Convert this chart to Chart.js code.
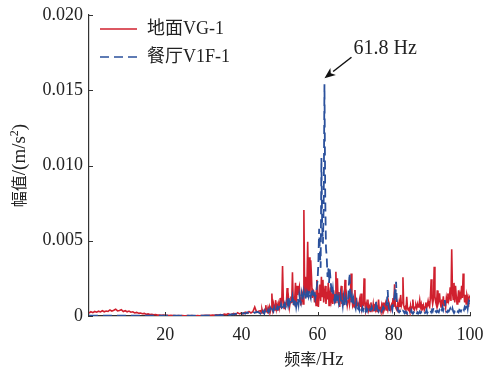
<!DOCTYPE html>
<html>
<head>
<meta charset="utf-8">
<script src="https://cdn.jsdelivr.net/npm/chart.js@4.4.1/dist/chart.umd.min.js"></script>
<style>
  html, body { margin: 0; padding: 0; background: #ffffff; }
  #wrap { width: 487px; height: 374px; position: relative; }
</style>
</head>
<body>
<div id="wrap"><canvas id="spectrum" width="487" height="374"></canvas></div>
<script>
// Frequency bins: 0.5 Hz steps below 45 Hz, 0.2 Hz steps from 45 Hz to 100 Hz
const lowBand = { start: 0, step: 0.5, count: 90 };
const highBand = { start: 45, step: 0.2, count: 276 };

// Amplitudes in 10^-3 m/s^2
// 地面VG-1, 0–44.5 Hz
const groundLow = [
  0.20, 0.28, 0.22, 0.30, 0.25, 0.32, 0.27, 0.35, 0.28, 0.33,
  0.30, 0.40, 0.32, 0.38, 0.45, 0.34, 0.36, 0.42, 0.30, 0.35,
  0.28, 0.33, 0.25, 0.28, 0.20, 0.24, 0.18, 0.20, 0.15, 0.17,
  0.12, 0.14, 0.10, 0.11, 0.08, 0.09, 0.06, 0.07, 0.05, 0.06,
  0.04, 0.05, 0.03, 0.04, 0.03, 0.03, 0.02, 0.03, 0.02, 0.03,
  0.02, 0.02, 0.03, 0.02, 0.03, 0.02, 0.02, 0.03, 0.02, 0.03,
  0.03, 0.04, 0.03, 0.05, 0.04, 0.06, 0.05, 0.08, 0.06, 0.10,
  0.07, 0.12, 0.09, 0.15, 0.10, 0.12, 0.18, 0.10, 0.22, 0.14,
  0.20, 0.15, 0.25, 0.18, 0.30, 0.20, 0.28, 0.60, 0.25, 0.32
];
// 地面VG-1, 45–100 Hz (five bins per Hz)
const groundHigh = [
  0.35, 0.20, 0.45, 0.25, 0.30,
  0.40, 0.30, 0.72, 0.30, 0.25,
  0.55, 0.35, 0.60, 0.30, 0.50,
  1.50, 0.50, 0.80, 0.40, 0.60,
  1.05, 0.45, 0.70, 0.35, 0.80,
  0.55, 1.20, 0.60, 0.90, 3.32,
  1.10, 0.50, 0.90, 0.60, 0.80,
  1.86, 0.70, 1.10, 0.55, 0.90,
  1.30, 0.85, 2.90, 1.00, 0.70,
  1.20, 2.20, 0.60, 2.00, 1.40,
  1.70, 1.95, 1.20, 0.70, 1.10,
  1.40, 0.80, 7.04, 1.50, 2.60,
  1.30, 2.00, 4.94, 1.60, 3.90,
  1.50, 3.70, 2.60, 1.20, 1.70,
  1.60, 0.90, 1.30, 0.70, 2.40,
  1.90, 0.60, 1.50, 2.10, 1.00,
  2.60, 1.30, 2.40, 0.90, 1.50,
  2.00, 0.80, 1.60, 1.10, 2.20,
  0.70, 1.40, 1.90, 1.00, 1.30,
  0.80, 1.70, 1.20, 0.90, 2.94,
  1.20, 2.50, 0.90, 1.60, 0.60,
  1.30, 2.00, 0.80, 1.50, 0.70,
  1.20, 2.40, 0.90, 1.30, 0.70,
  1.00, 1.40, 0.80, 1.20, 2.83,
  1.20, 0.70, 0.90, 0.60, 1.73,
  0.50, 1.20, 0.70, 0.90, 0.40,
  1.00, 0.60, 1.50, 0.50, 0.70,
  0.70, 2.50, 0.90, 0.40, 0.80,
  0.50, 1.10, 0.40, 0.60, 0.30,
  0.90, 0.50, 0.40, 0.80, 0.30,
  0.60, 0.40, 0.70, 0.30, 0.50,
  1.10, 0.40, 0.50, 0.30, 0.70,
  0.40, 0.90, 0.35, 0.50, 0.80,
  0.40, 0.60, 0.40, 0.90, 0.50,
  0.60, 0.40, 0.70, 0.50, 1.20,
  0.60, 2.10, 0.70, 0.50, 0.40,
  0.80, 0.50, 0.90, 0.60, 1.40,
  0.70, 0.90, 2.57, 0.70, 0.50,
  0.60, 0.40, 1.28, 0.50, 0.40,
  0.50, 0.30, 0.70, 0.40, 0.60,
  1.10, 0.50, 0.40, 0.60, 0.70,
  0.50, 0.80, 0.60, 0.70, 1.06,
  0.60, 0.80, 0.40, 0.50, 0.70,
  0.40, 0.60, 0.90, 0.50, 0.70,
  1.00, 0.70, 0.60, 1.20, 2.44,
  1.20, 0.80, 1.10, 3.27, 1.30,
  0.90, 0.70, 1.70, 0.80, 1.00,
  1.50, 0.90, 0.60, 1.10, 0.80,
  1.30, 0.70, 1.00, 0.60, 1.20,
  0.90, 1.50, 1.00, 1.20, 1.90,
  1.00, 4.43, 1.60, 1.10, 2.20,
  0.90, 2.00, 1.30, 0.80, 1.10,
  1.70, 0.90, 1.40, 1.10, 2.00,
  1.20, 2.83, 1.50, 0.90, 1.40,
  0.80, 1.40, 1.20, 0.60, 1.30,
  1.20
];

// 餐厅V1F-1, 0–44.5 Hz
const diningLow = [
  0.03, 0.02, 0.03, 0.02, 0.03, 0.02, 0.02, 0.03, 0.02, 0.02,
  0.03, 0.02, 0.02, 0.03, 0.02, 0.02, 0.03, 0.02, 0.02, 0.02,
  0.02, 0.02, 0.03, 0.02, 0.02, 0.02, 0.03, 0.02, 0.02, 0.02,
  0.02, 0.03, 0.02, 0.02, 0.03, 0.02, 0.02, 0.02, 0.03, 0.02,
  0.02, 0.03, 0.02, 0.02, 0.02, 0.03, 0.02, 0.02, 0.03, 0.02,
  0.02, 0.02, 0.03, 0.02, 0.03, 0.02, 0.02, 0.03, 0.02, 0.03,
  0.03, 0.02, 0.04, 0.03, 0.05, 0.03, 0.06, 0.04, 0.05, 0.07,
  0.05, 0.08, 0.06, 0.10, 0.07, 0.12, 0.09, 0.15, 0.10, 0.18,
  0.12, 0.20, 0.15, 0.25, 0.18, 0.22, 0.30, 0.20, 0.28, 0.24
];
// 餐厅V1F-1, 45–100 Hz (five bins per Hz)
const diningHigh = [
  0.15, 0.25, 0.10, 0.30, 0.20,
  0.15, 0.35, 0.20, 0.30, 0.20,
  0.40, 0.25, 0.35, 0.50, 0.30,
  0.45, 0.40, 0.30, 0.55, 0.35,
  0.50, 0.40, 0.60, 0.45, 0.55,
  0.70, 0.50, 0.80, 0.55, 0.60,
  0.90, 0.70, 0.85, 0.60, 0.75,
  1.00, 0.75, 1.30, 0.80, 0.95,
  1.10, 0.90, 1.25, 0.70, 0.95,
  0.80, 1.10, 0.60, 0.90, 1.20,
  0.80, 1.40, 1.10, 0.90, 1.50,
  1.20, 1.00, 1.60, 1.30, 1.10,
  1.50, 1.20, 1.50, 1.30, 1.70,
  1.40, 1.20, 1.80, 1.50, 1.60,
  1.30, 1.60, 1.20, 1.50, 1.95,
  2.40, 3.50, 5.80, 4.20, 3.20,
  10.50, 6.00, 4.80, 7.50, 15.40,
  8.00, 4.50, 3.90, 2.60, 3.20,
  2.20, 3.10, 2.40, 1.80, 1.40,
  1.80, 1.20, 1.00, 1.50, 1.10,
  1.30, 0.90, 1.20, 0.80, 1.00,
  1.40, 0.90, 1.10, 0.70, 1.30,
  1.00, 0.70, 1.20, 0.90, 1.10,
  1.00, 2.00, 2.85, 1.20, 0.90,
  1.30, 0.80, 1.10, 0.60, 0.70,
  0.50, 0.90, 0.60, 0.50, 0.70,
  0.40, 0.60, 0.45, 0.35, 0.55,
  0.40, 0.60, 0.40, 0.30, 0.50,
  0.35, 0.55, 0.40, 0.30, 0.45,
  0.40, 0.60, 0.35, 0.50, 0.40,
  0.40, 0.60, 1.00, 0.50, 0.40,
  0.30, 0.50, 0.35, 0.40, 0.30,
  0.45, 0.60, 0.50, 0.70, 0.60,
  0.70, 1.00, 1.73, 0.60, 0.40,
  0.30, 0.50, 0.60, 0.40, 0.80,
  0.80, 1.40, 1.00, 2.28, 0.90,
  0.40, 0.30, 0.25, 0.35, 0.20,
  0.30, 0.25, 0.35, 0.30, 0.20,
  0.29, 0.20, 0.25, 0.15, 0.20,
  0.25, 0.15, 0.20, 0.37, 0.20,
  0.15, 0.25, 0.20, 0.15, 0.30,
  0.20, 0.25, 0.15, 0.20, 0.30,
  0.20, 0.25, 0.15, 0.20, 0.25,
  0.30, 0.20, 0.25, 0.40, 0.20,
  0.30, 0.25, 0.20, 0.35, 0.25,
  0.40, 0.30, 0.50, 0.60, 0.40,
  0.30, 0.25, 0.35, 0.30, 0.25,
  0.40, 0.30, 0.50, 0.40, 0.60,
  0.40, 0.60, 1.06, 0.50, 0.30,
  0.25, 0.35, 0.30, 0.40, 0.50,
  0.30, 0.25, 0.50, 0.30, 0.20,
  0.30, 0.25, 0.35, 0.20, 0.30,
  0.25, 0.40, 0.35, 0.30, 0.45,
  0.35, 0.50, 0.40, 0.60, 0.50,
  0.60, 0.80, 0.50, 0.90, 0.70,
  1.06
];

const seriesNames = ['地面VG-1', '餐厅V1F-1'];
const xTicks = [20, 40, 60, 80, 100];
const yTicks = [0, 0.005, 0.010, 0.015, 0.020];
const peakLabel = { freq: 61.8, text: '61.8 Hz' };

const SERIF = '"Liberation Serif", "Times New Roman", "Noto Sans CJK SC", serif';
const CJK = '"Noto Sans CJK SC", "Noto Sans CJK JP", sans-serif';
const RED = '#d0202e';
const BLUE = '#2a509c';
const INK = '#222222';

// Axis titles as runs of mixed CJK / Latin text
const xTitleRuns = [
  { text: '频率', font: '16px ' + CJK, rise: 0 },
  { text: '/Hz', font: '19px ' + SERIF, rise: 0 }
];
const yTitleRuns = [
  { text: '幅值', font: '16px ' + CJK, rise: 0 },
  { text: '/(m/s', font: '19px ' + SERIF, rise: 0 },
  { text: '2', font: '12px ' + SERIF, rise: 7 },
  { text: ')', font: '19px ' + SERIF, rise: 0 }
];

function binFrequencies(band) {
  const out = [];
  for (let i = 0; i < band.count; i++) {
    out.push(Math.round((band.start + i * band.step) * 10) / 10);
  }
  return out;
}
const freqs = binFrequencies(lowBand).concat(binFrequencies(highBand));

function toPoints(values) {
  return values.map((v, i) => ({ x: freqs[i], y: v / 1000 }));
}
const groundPts = toPoints(groundLow.concat(groundHigh));
const diningPts = toPoints(diningLow.concat(diningHigh));

function drawRuns(ctx, runs, cx, cy, rotation) {
  ctx.save();
  ctx.translate(cx, cy);
  ctx.rotate(rotation);
  ctx.textBaseline = 'alphabetic';
  ctx.textAlign = 'left';
  ctx.fillStyle = INK;
  let total = 0;
  const widths = runs.map(r => { ctx.font = r.font; const w = ctx.measureText(r.text).width; total += w; return w; });
  let x = -total / 2;
  runs.forEach((r, i) => {
    ctx.font = r.font;
    ctx.fillText(r.text, x, 6 - r.rise);
    x += widths[i];
  });
  ctx.restore();
}

// Axis titles
const axisTitles = {
  id: 'axisTitles',
  afterDraw(chart) {
    const { ctx, chartArea } = chart;
    drawRuns(ctx, xTitleRuns, chartArea.left + 225, chartArea.bottom + 43, 0);
    drawRuns(ctx, yTitleRuns, 19, (chartArea.top + chartArea.bottom) / 2, -Math.PI / 2);
  }
};

// Inward tick marks on the left and bottom axes
const inwardTicks = {
  id: 'inwardTicks',
  afterDraw(chart) {
    const { ctx, chartArea, scales } = chart;
    ctx.save();
    ctx.strokeStyle = '#333333';
    ctx.lineWidth = 1;
    xTicks.forEach(v => {
      const px = Math.round(scales.x.getPixelForValue(v)) + 0.5;
      ctx.beginPath();
      ctx.moveTo(px, chartArea.bottom);
      ctx.lineTo(px, chartArea.bottom - 4);
      ctx.stroke();
    });
    yTicks.forEach(v => {
      const py = Math.round(scales.y.getPixelForValue(v)) + 0.5;
      ctx.beginPath();
      ctx.moveTo(chartArea.left, py);
      ctx.lineTo(chartArea.left + 4, py);
      ctx.stroke();
    });
    ctx.restore();
  }
};

// Legend drawn inside the plot area, top left
const innerLegend = {
  id: 'innerLegend',
  afterDraw(chart) {
    const { ctx, chartArea } = chart;
    ctx.save();
    ctx.font = '18px ' + SERIF;
    ctx.textBaseline = 'middle';
    ctx.textAlign = 'left';
    chart.data.datasets.forEach((ds, i) => {
      const y = chartArea.top + 14 + i * 28;
      const x0 = chartArea.left + 11;
      ctx.strokeStyle = ds.borderColor;
      ctx.lineWidth = 1.5;
      ctx.setLineDash(ds.borderDash || []);
      ctx.beginPath();
      ctx.moveTo(x0, y);
      ctx.lineTo(x0 + 37, y);
      ctx.stroke();
      ctx.setLineDash([]);
      ctx.fillStyle = INK;
      ctx.fillText(ds.label, x0 + 47, y);
    });
    ctx.restore();
  }
};

// Arrow and text pointing at the dominant peak
const peakArrow = {
  id: 'peakArrow',
  afterDraw(chart) {
    const { ctx, scales } = chart;
    const ds = chart.data.datasets[1].data;
    const pt = ds.find(p => Math.abs(p.x - peakLabel.freq) < 1e-6);
    const tipX = scales.x.getPixelForValue(pt.x);
    const tipY = scales.y.getPixelForValue(pt.y) - 6;
    const tailX = tipX + 27, tailY = tipY - 21;
    ctx.save();
    ctx.strokeStyle = '#111111';
    ctx.fillStyle = '#111111';
    ctx.lineWidth = 1.5;
    const ang = Math.atan2(tipY - tailY, tipX - tailX);
    const headLen = 11, headW = 4.5;
    const bx = tipX - headLen * Math.cos(ang), by = tipY - headLen * Math.sin(ang);
    ctx.beginPath();
    ctx.moveTo(tailX, tailY);
    ctx.lineTo(bx, by);
    ctx.stroke();
    ctx.beginPath();
    ctx.moveTo(tipX, tipY);
    ctx.lineTo(bx + headW * Math.sin(ang), by - headW * Math.cos(ang));
    ctx.lineTo(tipX - (headLen - 3) * Math.cos(ang), tipY - (headLen - 3) * Math.sin(ang));
    ctx.lineTo(bx - headW * Math.sin(ang), by + headW * Math.cos(ang));
    ctx.closePath();
    ctx.fill();
    ctx.font = '20px ' + SERIF;
    ctx.textBaseline = 'middle';
    ctx.textAlign = 'left';
    ctx.fillStyle = INK;
    ctx.fillText(peakLabel.text, tailX + 2, tailY - 8);
    ctx.restore();
  }
};

new Chart(document.getElementById('spectrum'), {
  type: 'line',
  data: {
    datasets: [
      {
        label: seriesNames[0],
        data: groundPts,
        borderColor: RED,
        borderWidth: 1.6,
        pointRadius: 0,
        tension: 0,
        order: 2
      },
      {
        label: seriesNames[1],
        data: diningPts,
        borderColor: BLUE,
        borderWidth: 1.8,
        borderDash: [9, 5],
        pointRadius: 0,
        tension: 0,
        order: 1
      }
    ]
  },
  options: {
    responsive: false,
    animation: false,
    devicePixelRatio: 1,
    layout: { padding: { left: 0, top: 15, right: 0, bottom: 0 } },
    plugins: { legend: { display: false }, tooltip: { enabled: false } },
    scales: {
      x: {
        type: 'linear',
        min: 0,
        max: 100,
        afterBuildTicks(scale) { scale.ticks = xTicks.map(v => ({ value: v })); },
        afterFit(scale) {
          scale.height = 58;
          scale.paddingLeft = 0;
          scale.paddingRight = 17;
        },
        grid: { display: false, drawTicks: false },
        border: { display: true, color: '#333333', width: 1.2 },
        ticks: {
          padding: 8,
          color: INK,
          font: { family: SERIF, size: 18 },
          maxRotation: 0,
          callback: v => String(v)
        },
        title: { display: false }
      },
      y: {
        min: 0,
        max: 0.02,
        afterBuildTicks(scale) { scale.ticks = yTicks.map(v => ({ value: v })); },
        afterFit(scale) {
          scale.width = 89;
          scale.paddingTop = 0;
          scale.paddingBottom = 0;
        },
        grid: { display: false, drawTicks: false },
        border: { display: true, color: '#333333', width: 1.2 },
        ticks: {
          padding: 6,
          color: INK,
          font: { family: SERIF, size: 18 },
          callback: v => (v === 0 ? '0' : v.toFixed(3))
        },
        title: { display: false }
      }
    }
  },
  plugins: [inwardTicks, innerLegend, peakArrow, axisTitles]
});
</script>
</body>
</html>
